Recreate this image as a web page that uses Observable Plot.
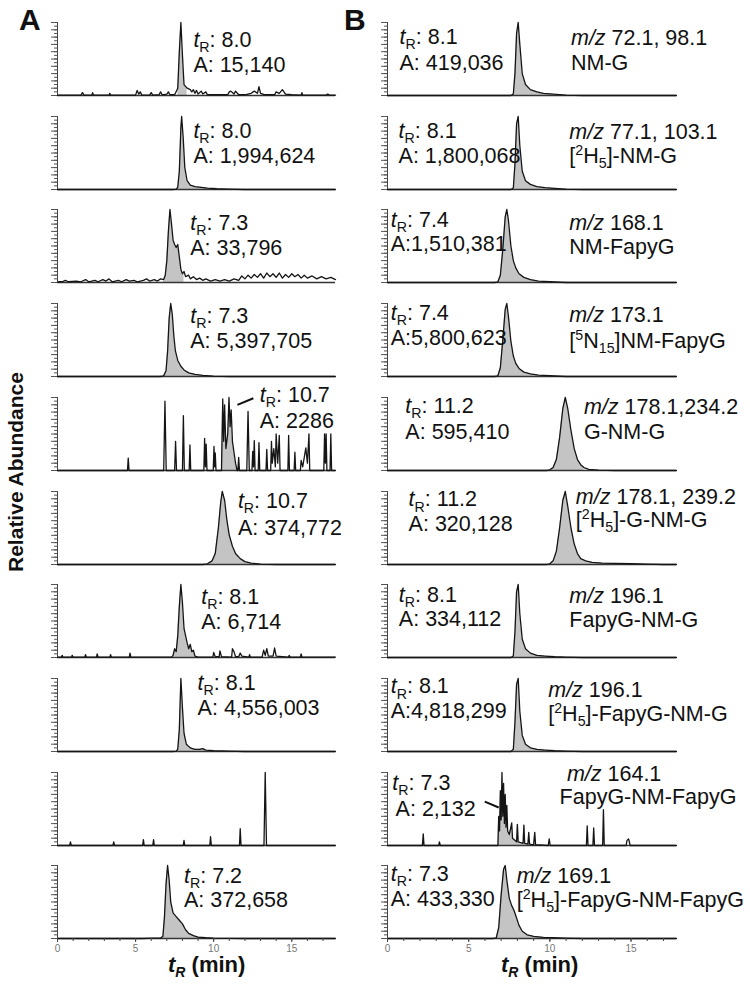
<!DOCTYPE html>
<html><head><meta charset="utf-8">
<script src="https://cdn.jsdelivr.net/npm/d3@7"></script>
<script src="https://cdn.jsdelivr.net/npm/@observablehq/plot@0.6"></script>
<style>
body{margin:0;background:#fff;}
#root{position:relative;width:750px;height:987px;font-family:"Liberation Sans",Arial,sans-serif;color:#111;overflow:hidden;}
.panel{position:absolute;}
.panel svg{overflow:visible;max-width:none !important;background:transparent !important;}
.big{position:absolute;font-weight:bold;}
</style></head>
<body><div id="root"></div>
<script>
// ---------- DATA (time in min, relative abundance in %) ----------
const a1 = [[0,0.5],[1.5,0.5],[1.6,4],[1.7,0.5],[2.2,0.5],[2.25,4],[2.3,0.5],[3.3,0.5],[3.35,3],[3.4,0.5],[5.0,0.5],[5.1,7],[5.2,2],[5.3,5],[5.4,0.5],[5.9,0.5],[6.0,4],[6.1,0.5],[6.5,1],[6.6,5],[6.7,1],[7.0,2],[7.1,5],[7.2,1],[7.5,1],[7.7,10],[7.8,60],[7.9,100],[8.0,55],[8.1,15],[8.3,10],[8.5,8],[8.6,5],[8.7,8],[8.8,3],[8.9,7],[9.0,2],[9.2,6],[9.3,2],[9.5,5],[9.6,1],[10.0,1],[10.9,1],[11.0,5],[11.1,6],[11.3,2],[11.4,6],[11.6,1],[12.0,1],[12.4,3],[12.6,6],[12.8,3],[12.9,12],[13.0,3],[13.3,1],[13.9,1],[14.0,5],[14.2,3],[14.4,8],[14.6,2],[15.0,1],[15.6,0.5],[15.65,4],[15.7,0.5],[17.2,0.5],[17.3,2],[17.4,0.5],[17.8,0.5]];
const a2 = [[0,0],[7.4,0],[7.6,0.5],[7.7,3],[7.8,25],[7.9,85],[7.95,100],[8.05,70],[8.15,30],[8.3,12],[8.5,6],[8.8,4],[9.2,3],[9.6,2],[10.2,1],[11,0.5],[12,0],[17.8,0]];
const a3 = [[0,1],[0.3,1],[0.5,3],[0.7,1],[1.2,2],[1.5,1],[1.8,4],[2.0,1],[2.4,3],[2.6,1],[2.9,4],[3.1,2],[3.3,5],[3.5,1],[3.9,3],[4.1,1],[4.4,4],[4.6,2],[4.9,3],[5.1,1],[5.5,3],[5.7,5],[5.9,2],[6.2,4],[6.4,2],[6.6,5],[6.8,4],[6.9,10],[7.0,30],[7.1,70],[7.2,100],[7.3,80],[7.4,58],[7.5,52],[7.6,48],[7.7,52],[7.8,35],[7.9,18],[8.0,12],[8.1,15],[8.2,8],[8.4,10],[8.5,5],[8.7,8],[8.9,4],[9.1,6],[9.3,3],[9.5,5],[9.8,2],[10.1,4],[10.4,2],[10.7,4],[11.0,2],[11.3,5],[11.6,3],[11.8,9],[12.0,5],[12.2,10],[12.4,6],[12.6,11],[12.8,7],[13.0,12],[13.2,6],[13.4,13],[13.6,8],[13.8,12],[14.0,7],[14.2,13],[14.4,6],[14.6,11],[14.8,7],[15.0,12],[15.2,8],[15.4,11],[15.6,6],[15.8,10],[16.0,6],[16.3,9],[16.6,5],[16.9,8],[17.2,5],[17.5,7],[17.8,4]];
const a4 = [[0,0],[6.6,0],[6.8,1],[6.95,8],[7.05,35],[7.15,80],[7.25,100],[7.35,85],[7.45,55],[7.55,35],[7.7,22],[7.9,14],[8.1,9],[8.4,5],[8.8,3],[9.3,1.5],[10,0.5],[11,0],[17.8,0]];
const a5 = [[0,0],[4.48,0],[4.53,17],[4.58,0],[6.8,0],[6.88,95],[6.96,0],[7.5,0],[7.56,40],[7.62,0],[8.0,0],[8.06,75],[8.12,0],[8.43,0],[8.48,35],[8.53,0],[9.37,0],[9.42,44],[9.47,5],[9.52,36],[9.57,0],[9.97,0],[10.02,33],[10.06,5],[10.1,24],[10.15,0],[10.5,0],[10.58,98],[10.64,40],[10.7,90],[10.78,30],[10.9,50],[10.98,100],[11.05,60],[11.12,83],[11.2,40],[11.3,25],[11.4,10],[11.5,0],[11.55,0],[11.6,18],[11.65,0],[12.12,0],[12.2,81],[12.28,0],[12.45,0],[12.5,26],[12.55,5],[12.6,41],[12.65,0],[12.85,0],[12.9,38],[12.95,0],[13.35,0],[13.4,29],[13.45,0],[13.65,0],[13.7,40],[13.75,10],[13.85,30],[13.95,5],[14.0,50],[14.1,10],[14.2,48],[14.25,0],[14.75,0],[14.8,48],[14.85,0],[15.15,0],[15.2,25],[15.25,0],[15.55,0],[15.6,14],[15.7,5],[15.9,31],[16.0,10],[16.1,50],[16.15,0],[17.05,0],[17.1,50],[17.15,10],[17.2,50],[17.25,0],[17.45,0],[17.5,50],[17.55,0],[17.8,0]];
const a6 = [[0,0],[9.3,0],[9.6,1],[9.9,5],[10.1,15],[10.3,50],[10.45,85],[10.55,100],[10.7,88],[10.85,60],[11.0,40],[11.2,25],[11.4,15],[11.7,8],[12.0,4],[12.4,2],[13,0.5],[14,0],[17.8,0]];
const a7 = [[0,0.5],[0.25,0.5],[0.3,3],[0.35,0.5],[0.9,0.5],[0.94,3],[1.0,0.5],[1.75,0.5],[1.79,4],[1.85,0.5],[2.5,0.5],[2.54,5],[2.6,0.5],[3.35,0.5],[3.4,4],[3.45,0.5],[4.6,0.5],[4.64,6],[4.7,0.5],[7.3,0.5],[7.4,3],[7.5,12],[7.6,8],[7.7,30],[7.8,70],[7.9,100],[8.0,75],[8.1,40],[8.2,30],[8.3,20],[8.4,12],[8.5,18],[8.6,8],[8.7,10],[8.8,2],[9.0,0.5],[9.95,0.5],[10.0,7],[10.1,1],[10.35,1],[10.4,9],[10.5,1],[11.15,0.5],[11.2,12],[11.3,8],[11.4,1],[11.6,1],[11.7,6],[11.8,2],[12.25,0.5],[12.3,4],[12.35,0.5],[13.1,0.5],[13.2,10],[13.3,3],[13.4,12],[13.5,2],[13.8,2],[13.9,13],[14.0,2],[14.8,0.5],[14.83,3],[14.9,0.5],[15.55,0.5],[15.6,5],[15.65,0.5],[17.8,0.5]];
const a8 = [[0,0],[7.4,0],[7.6,0.5],[7.7,3],[7.8,30],[7.9,100],[8.0,60],[8.1,25],[8.25,10],[8.5,5],[8.8,3],[9.1,3],[9.3,4],[9.5,2],[10,1],[11,0.5],[12,0],[17.8,0]];
const a9 = [[0,0],[0.78,0],[0.83,5],[0.88,0],[3.55,0],[3.6,5],[3.65,0],[5.45,0],[5.5,8],[5.55,0],[6.1,0],[6.15,8],[6.2,0],[8.05,0],[8.1,7],[8.15,0],[9.75,0],[9.8,12],[9.85,0],[11.65,0],[11.7,23],[11.75,0],[13.22,0],[13.3,100],[13.38,0],[17.8,0]];
const a10 = [[0,0],[5.5,0],[6.0,0.5],[6.6,0.5],[6.75,3],[6.85,30],[6.95,75],[7.05,100],[7.15,80],[7.25,50],[7.4,35],[7.6,30],[7.8,25],[8.0,20],[8.2,12],[8.4,7],[8.7,4],[9.0,2],[9.5,1],[10,0.5],[11,0.3],[12,0],[17.8,0]];

const b1 = [[0,0],[7.6,0],[7.75,2],[7.85,30],[7.95,85],[8.05,100],[8.15,70],[8.3,30],[8.5,15],[8.8,8],[9.2,5],[9.6,3],[10.2,2],[11,0.5],[12,0],[17.8,0]];
const b2 = [[0,0],[7.6,0],[7.75,2],[7.85,35],[7.95,90],[8.05,100],[8.15,60],[8.3,25],[8.5,12],[8.8,7],[9.2,4],[9.7,2.5],[10.3,1.5],[11,0.5],[12,0],[17.8,0]];
const b3 = [[0,0],[6.6,0],[6.8,1],[6.95,10],[7.1,45],[7.25,90],[7.35,100],[7.45,85],[7.6,50],[7.75,30],[7.9,20],[8.1,12],[8.4,7],[8.8,4],[9.3,2],[10,1],[11,0],[17.8,0]];
const b4 = [[0,0],[6.6,0],[6.8,1],[6.95,12],[7.1,50],[7.25,92],[7.35,100],[7.45,82],[7.6,48],[7.75,28],[7.9,18],[8.1,11],[8.4,6],[8.8,3.5],[9.3,2],[10,1],[11,0],[17.8,0]];
const b5 = [[0,0],[9.8,0],[10.0,1],[10.2,4],[10.4,15],[10.6,45],[10.8,85],[10.95,100],[11.1,85],[11.3,55],[11.5,30],[11.7,15],[11.9,8],[12.1,4],[12.4,1.5],[13,0.5],[14,0],[17.8,0]];
const b6 = [[0,0],[9.8,0],[10.0,1],[10.2,5],[10.4,18],[10.6,50],[10.8,88],[10.95,100],[11.1,80],[11.3,50],[11.5,28],[11.7,15],[11.9,8],[12.2,5],[12.6,3],[13.2,2],[14,1.5],[15,1],[16,0.5],[17,0],[17.8,0]];
const b7 = [[0,0],[7.6,0],[7.75,2],[7.85,35],[7.95,90],[8.05,100],[8.15,60],[8.3,25],[8.5,12],[8.8,6],[9.2,3],[9.7,2],[10.3,1],[11,0.5],[12,0],[17.8,0]];
const b8 = [[0,0],[7.6,0],[7.75,3],[7.85,40],[7.95,92],[8.05,100],[8.15,55],[8.3,22],[8.5,10],[8.8,5],[9.2,3],[9.7,2],[10.3,1],[11,0.5],[12,0],[17.8,0]];
const b9 = [[0,0],[2.15,0],[2.2,16],[2.25,0],[3.15,0],[3.2,5],[3.25,0],[6.8,0],[6.85,40],[6.9,20],[6.95,75],[7.0,35],[7.05,100],[7.1,40],[7.15,85],[7.2,30],[7.25,70],[7.3,25],[7.35,55],[7.4,20],[7.5,15],[7.6,25],[7.65,31],[7.7,10],[7.95,5],[8.0,29],[8.05,5],[8.35,3],[8.4,28],[8.45,3],[8.65,2],[8.7,18],[8.75,2],[9.0,1],[9.07,18],[9.12,1],[9.9,0],[9.96,9],[10.02,0],[12.25,0],[12.3,27],[12.35,0],[12.65,0],[12.7,24],[12.75,0],[13.25,0],[13.3,49],[13.35,0],[14.7,0],[14.75,7],[14.85,9],[14.95,0],[17.8,0]];
const b10 = [[0,0],[6.5,0],[6.7,1],[6.85,15],[7.0,60],[7.15,95],[7.25,100],[7.35,80],[7.5,55],[7.65,45],[7.8,38],[7.95,28],[8.1,18],[8.3,10],[8.6,5],[9.0,3],[9.6,1.5],[10.2,1],[11,0.5],[12,0],[17.8,0]];

const tracesA = [a1,a2,a3,a4,a5,a6,a7,a8,a9,a10];
const tracesB = [b1,b2,b3,b4,b5,b6,b7,b8,b9,b10];

// integrated (shaded) windows, min
const windowsA = [[7.6,8.4],[7.6,10.0],[6.8,8.1],[6.8,9.5],[10.5,11.5],[9.6,12.4],[7.4,8.8],[7.6,9.6],null,[6.7,9.5]];
const windowsB = [[7.7,10.5],[7.7,10.3],[6.8,9.8],[6.8,9.8],[10.0,12.2],[10.0,16.0],[7.7,10.2],[7.7,10.2],[6.8,9.2],[6.7,10.2]];

// annotation text (markup: *italic*, _{sub}, ^{sup})
const labelsA = [
  {p:0,x:8.7,y:76,s:"*t*_{R}: 8.0"},{p:0,x:8.7,y:42,s:"A: 15,140"},
  {p:1,x:8.7,y:80,s:"*t*_{R}: 8.0"},{p:1,x:8.7,y:46,s:"A: 1,994,624"},
  {p:2,x:8.5,y:82,s:"*t*_{R}: 7.3"},{p:2,x:8.5,y:47,s:"A: 33,796"},
  {p:3,x:8.5,y:83,s:"*t*_{R}: 7.3"},{p:3,x:8.5,y:49,s:"A: 5,397,705"},
  {p:4,x:12.95,y:103,s:"*t*_{R}: 10.7"},{p:4,x:12.95,y:68,s:"A: 2286"},
  {p:5,x:11.55,y:87,s:"*t*_{R}: 10.7"},{p:5,x:11.55,y:50,s:"A: 374,772"},
  {p:6,x:9.2,y:83,s:"*t*_{R}: 8.1"},{p:6,x:9.2,y:49,s:"A: 6,714"},
  {p:7,x:8.97,y:94,s:"*t*_{R}: 8.1"},{p:7,x:8.97,y:59,s:"A: 4,556,003"},
  {p:9,x:8.1,y:86,s:"*t*_{R}: 7.2"},{p:9,x:8.1,y:52,s:"A: 372,658"}
];
const labelsB = [
  {p:0,x:0.74,y:80,s:"*t*_{R}: 8.1"},{p:0,x:0.74,y:45,s:"A: 419,036"},
  {p:0,x:11.3,y:79,s:"*m/z* 72.1, 98.1"},{p:0,x:11.3,y:45,s:"NM-G"},
  {p:1,x:0.68,y:80,s:"*t*_{R}: 8.1"},{p:1,x:0.68,y:46,s:"A: 1,800,068"},
  {p:1,x:11.2,y:79,s:"*m/z* 77.1, 103.1"},{p:1,x:11.2,y:46,s:"[^{2}H_{5}]-NM-G"},
  {p:2,x:0.2,y:86,s:"*t*_{R}: 7.4"},{p:2,x:0.2,y:52,s:"A:1,510,381"},
  {p:2,x:11.2,y:82,s:"*m/z* 168.1"},{p:2,x:11.2,y:49,s:"NM-FapyG"},
  {p:3,x:0.2,y:87,s:"*t*_{R}: 7.4"},{p:3,x:0.2,y:52,s:"A:5,800,623"},
  {p:3,x:11.2,y:84,s:"*m/z* 173.1"},{p:3,x:11.2,y:49,s:"[^{5}N_{15}]NM-FapyG"},
  {p:4,x:1.1,y:88,s:"*t*_{R}: 11.2"},{p:4,x:1.1,y:53,s:"A: 595,410"},
  {p:4,x:12.1,y:87,s:"*m/z* 178.1,234.2"},{p:4,x:12.1,y:53,s:"G-NM-G"},
  {p:5,x:1.3,y:89,s:"*t*_{R}: 11.2"},{p:5,x:1.3,y:55,s:"A: 320,128"},
  {p:5,x:11.6,y:92,s:"*m/z* 178.1, 239.2"},{p:5,x:11.6,y:61,s:"[^{2}H_{5}]-G-NM-G"},
  {p:6,x:0.7,y:86,s:"*t*_{R}: 8.1"},{p:6,x:0.7,y:52,s:"A: 334,112"},
  {p:6,x:11.2,y:84,s:"*m/z* 196.1"},{p:6,x:11.2,y:51,s:"FapyG-NM-G"},
  {p:7,x:0.2,y:89,s:"*t*_{R}: 8.1"},{p:7,x:0.2,y:55,s:"A:4,818,299"},
  {p:7,x:9.9,y:84,s:"*m/z* 196.1"},{p:7,x:9.9,y:51,s:"[^{2}H_{5}]-FapyG-NM-G"},
  {p:8,x:0.3,y:85,s:"*t*_{R}: 7.3"},{p:8,x:0.5,y:50,s:"A: 2,132"},
  {p:8,x:11.05,y:98,s:"*m/z* 164.1"},{p:8,x:10.6,y:66,s:"FapyG-NM-FapyG"},
  {p:9,x:0.2,y:88,s:"*t*_{R}: 7.3"},{p:9,x:0.2,y:54,s:"A: 433,330"},
  {p:9,x:7.96,y:86,s:"*m/z* 169.1"},{p:9,x:7.96,y:53,s:"[^{2}H_{5}]-FapyG-NM-FapyG"}
];
const leadersA = [{p:4,x1:11.52,y1:90,x2:12.54,y2:99}];
const leadersB = [{p:8,x1:5.99,y1:60,x2:6.85,y2:52}];

const xTicks = [0,5,10,15];
const xMinor = d3.range(0,18,1);

// ---------- DRAW ----------
const root = document.getElementById("root");
const FS = 21.5;
const SVGNS = "http://www.w3.org/2000/svg";

function richify(el, fs) {
  const s = el.textContent;
  if (!/[*_^]/.test(s)) return;
  el.textContent = "";
  let italic = false, shift = 0, buf = "";
  const add = (str, mode) => {
    if (!str) return;
    const t = document.createElementNS(SVGNS, "tspan");
    t.textContent = str;
    if (italic) t.setAttribute("font-style", "italic");
    let target = 0;
    if (mode === "sub") { target = fs * 0.24; t.setAttribute("font-size", fs * 0.66); }
    if (mode === "sup") { target = -fs * 0.36; t.setAttribute("font-size", fs * 0.66); }
    if (target !== shift) { t.setAttribute("dy", target - shift); shift = target; }
    el.appendChild(t);
  };
  let i = 0;
  while (i < s.length) {
    const c = s[i];
    if (c === "*") { add(buf); buf = ""; italic = !italic; i++; }
    else if ((c === "_" || c === "^") && s[i+1] === "{") {
      add(buf); buf = "";
      const j = s.indexOf("}", i);
      add(s.slice(i+2, j), c === "_" ? "sub" : "sup");
      i = j + 1;
    } else { buf += c; i++; }
  }
  add(buf);
}

function drawPanel(trace, win, labels, leaders, col, i) {
  const rows = trace.map(([t, v]) => ({t, v}));
  const bottom = i === 9;
  const base = 95 + i * 93.7;
  const marks = [];
  if (win) marks.push(Plot.areaY(rows.filter(d => d.t >= win[0] && d.t <= win[1]), {x: "t", y: "v", fill: "#c4c4c4"}));
  marks.push(Plot.ruleY([0], {stroke: "#333", strokeWidth: 1.3}));
  marks.push(Plot.lineY(rows, {x: "t", y: "v", stroke: "#151515", strokeWidth: 1.3}));
  marks.push(Plot.ruleX([0], {y1: 0, y2: 100, stroke: "#444", strokeWidth: 1}));
  marks.push(Plot.axisY({ticks: d3.range(0, 101, 5), tickSize: 3, tickFormat: () => "", label: null, stroke: "#555"}));
  marks.push(Plot.axisY({ticks: d3.range(0, 101, 10), tickSize: 6, tickFormat: () => "", label: null, stroke: "#555"}));
  if (bottom) {
    marks.push(Plot.axisX({ticks: xMinor, tickSize: 3, tickFormat: () => "", label: null, stroke: "#444"}));
    marks.push(Plot.axisX({ticks: xTicks, tickSize: 4, tickPadding: 2, fontSize: 10, fill: "#777", label: null, stroke: "#444"}));
  }
  const lab = labels.filter(d => d.p === i);
  if (lab.length) marks.push(Plot.text(lab, {x: "x", y: "y", text: "s", textAnchor: "start", fontSize: FS, fill: "#111"}));
  const led = leaders.filter(d => d.p === i);
  if (led.length) marks.push(Plot.link(led, {x1: "x1", y1: "y1", x2: "x2", y2: "y2", stroke: "#111", strokeWidth: 2}));

  const svg = Plot.plot({
    width: 375,
    height: bottom ? 112 : 94,
    marginLeft: col === 0 ? 57 : 12,
    marginRight: col === 0 ? 40 : 74,
    marginTop: 10,
    marginBottom: bottom ? 29 : 11,
    x: {domain: [0, 17.8], axis: null},
    y: {domain: [0, 100], axis: null},
    style: {fontFamily: '"Liberation Sans", Arial, sans-serif', background: "transparent", overflow: "visible"},
    marks
  });
  svg.querySelectorAll('g[aria-label="text"] text').forEach(el => richify(el, FS));
  const div = document.createElement("div");
  div.className = "panel";
  div.style.left = (col === 0 ? 0 : 375) + "px";
  div.style.top = Math.round(base) - 83 + "px";
  div.appendChild(svg);
  root.appendChild(div);
}

tracesA.forEach((tr, i) => drawPanel(tr, windowsA[i], labelsA, leadersA, 0, i));
tracesB.forEach((tr, i) => drawPanel(tr, windowsB[i], labelsB, leadersB, 1, i));

// panel letters, axis titles
function addDiv(html, css) {
  const d = document.createElement("div");
  d.className = "big";
  d.innerHTML = html;
  Object.assign(d.style, css);
  root.appendChild(d);
}
addDiv("A", {left: "19px", top: "3px", fontSize: "30px", lineHeight: "34px"});
addDiv("B", {left: "344px", top: "3px", fontSize: "30px", lineHeight: "34px"});
const xTitle = "<i>t</i><i style='font-size:14px;position:relative;top:5px'>R</i> (min)";
addDiv(xTitle, {left: "168px", top: "954px", fontSize: "22px", lineHeight: "22px"});
addDiv(xTitle, {left: "501px", top: "954px", fontSize: "22px", lineHeight: "22px"});
addDiv("Relative Abundance", {left: "16px", top: "472px", fontSize: "21px", transform: "translate(-50%,-50%) rotate(-90deg)", whiteSpace: "nowrap"});
</script>
</body></html>
